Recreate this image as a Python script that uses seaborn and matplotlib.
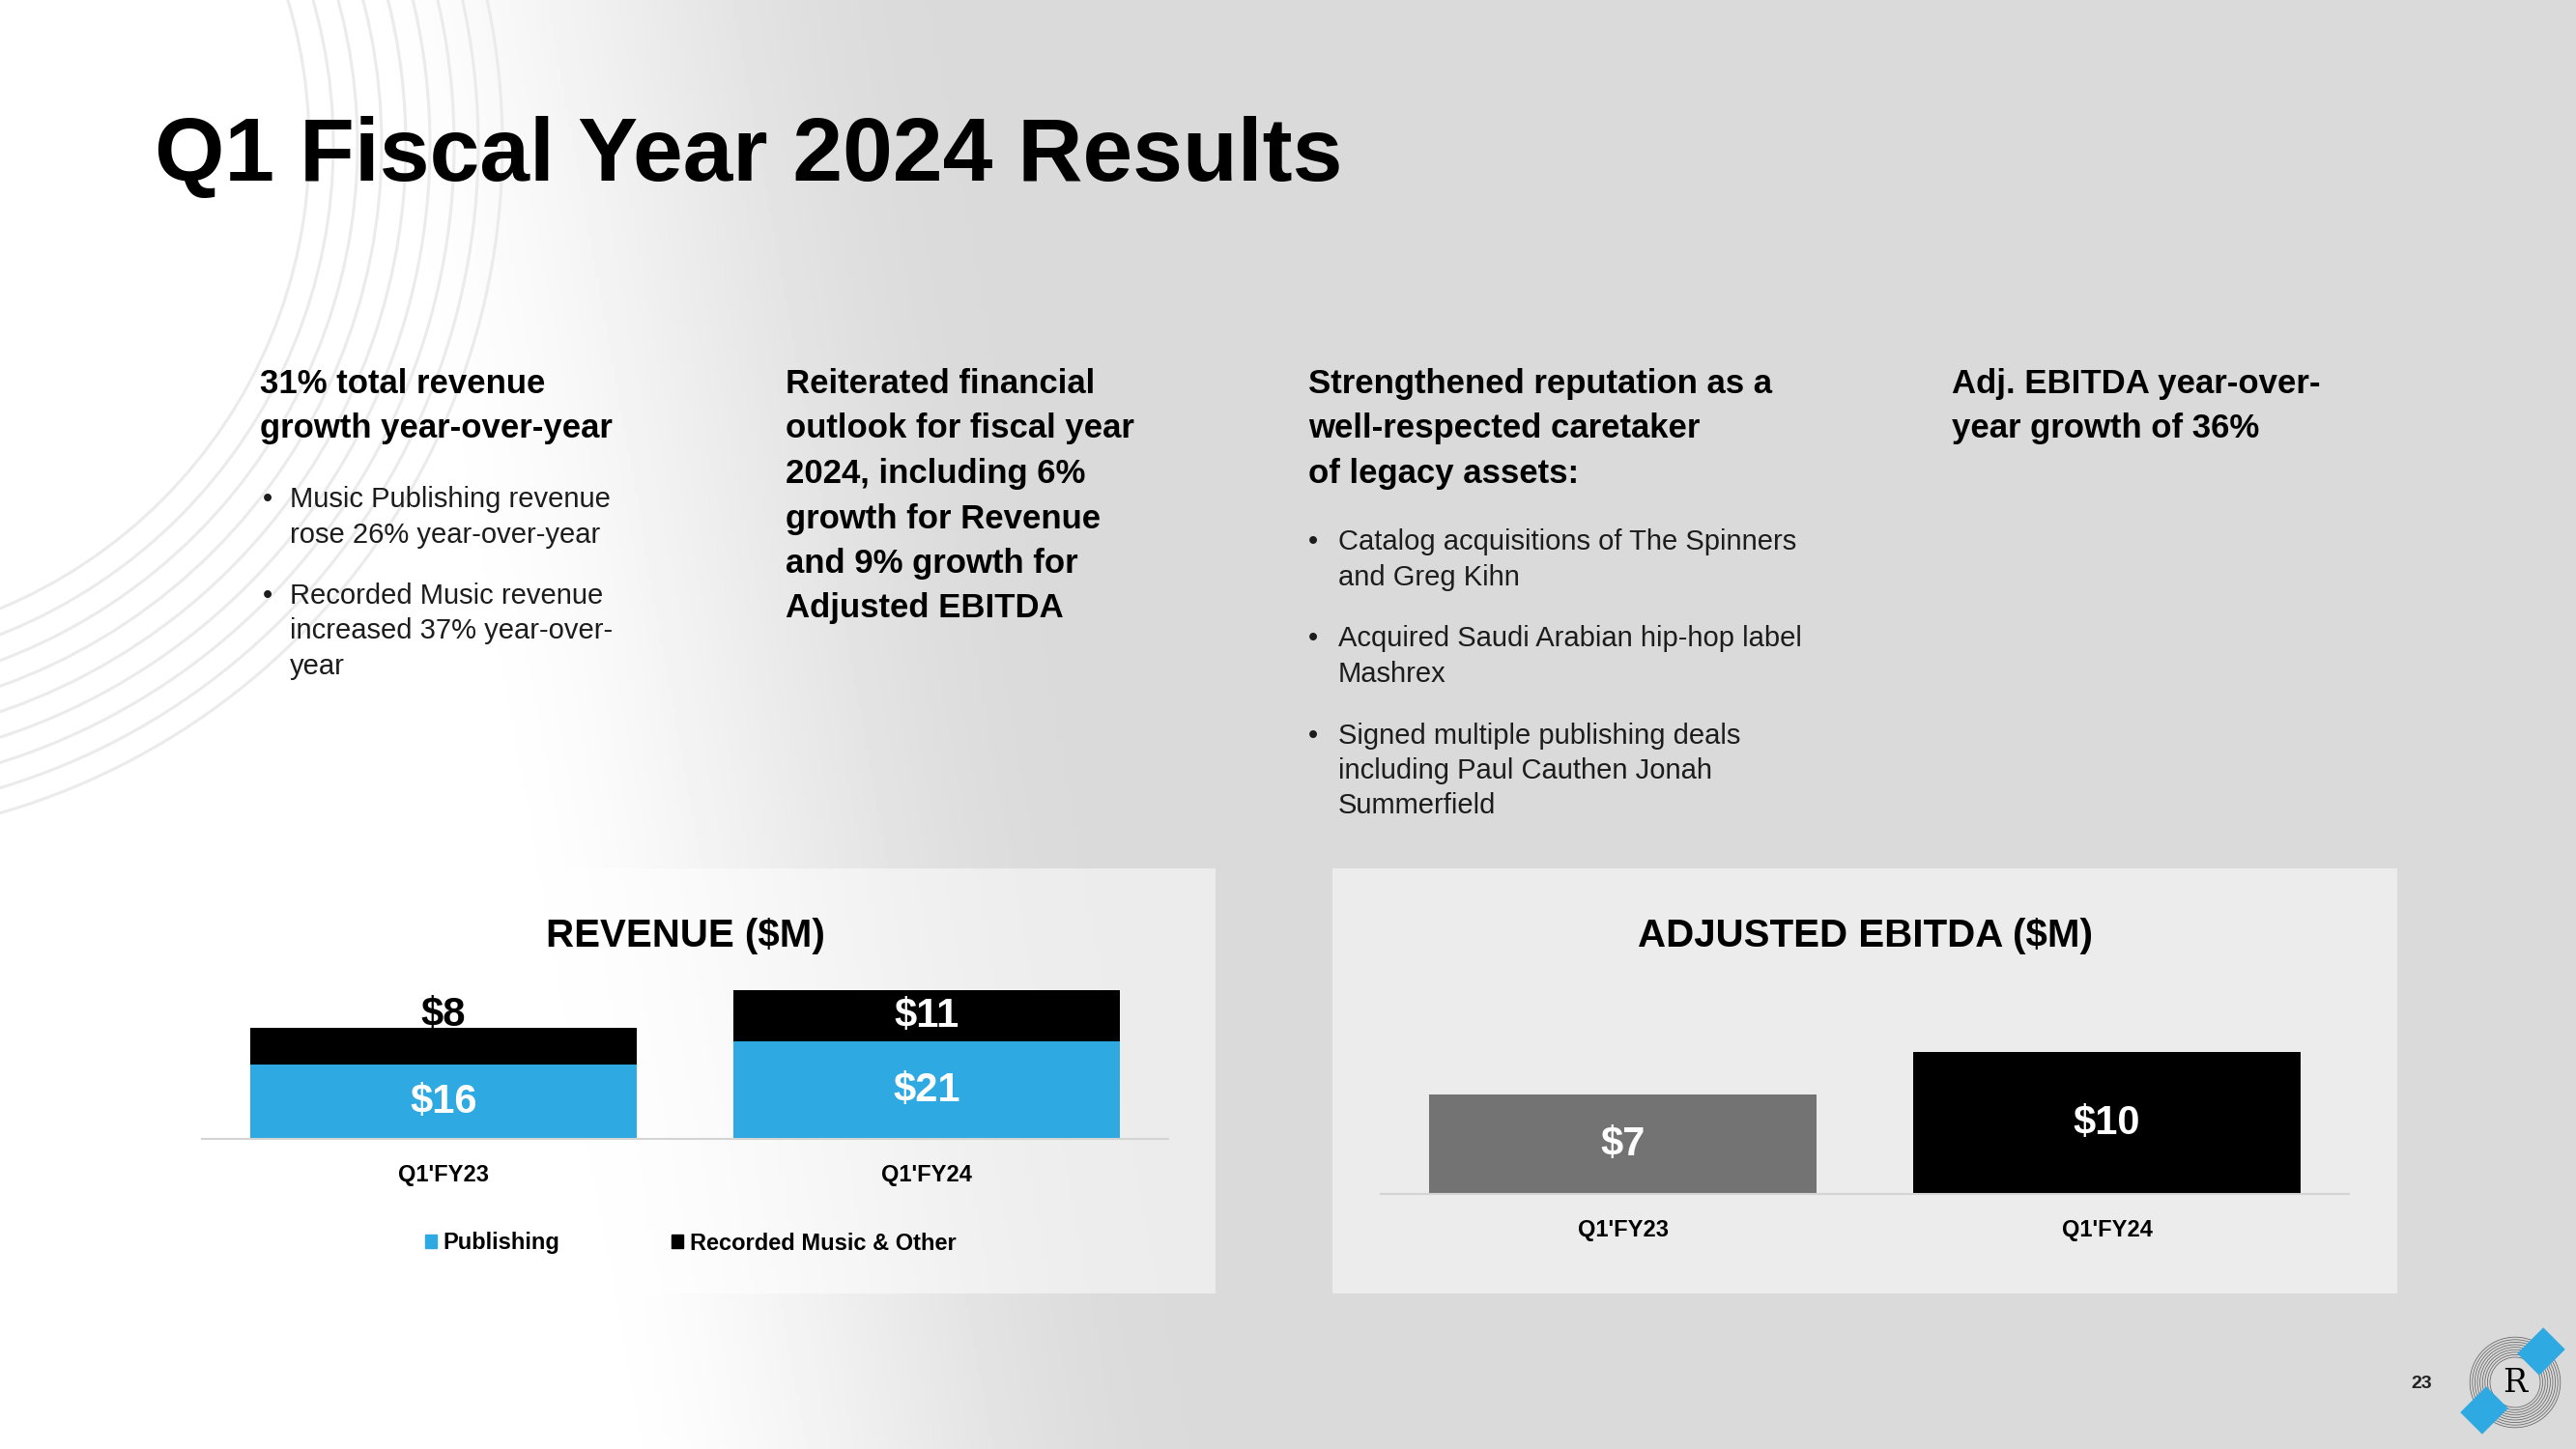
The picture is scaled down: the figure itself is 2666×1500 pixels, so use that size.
import numpy as np
import matplotlib
matplotlib.use("Agg")
import matplotlib.pyplot as plt
from matplotlib.patches import Rectangle, Circle, Polygon, Patch
import seaborn as sns

W, H = 2666, 1500

# chart data ($M)
quarters = ["Q1'FY23", "Q1'FY24"]
publishing = [16, 21]
recorded = [8, 11]
ebitda = [7, 10]

blue = "#2fa9e1"
ebitda_colors = ["#737373", "#000000"]

# slide text
title = "Q1 Fiscal Year 2024 Results"
col1_head = ["31% total revenue", "growth year-over-year"]
col1_bullets = [["Music Publishing revenue", "rose 26% year-over-year"],
                ["Recorded Music revenue", "increased 37% year-over-", "year"]]
col2_head = ["Reiterated financial", "outlook for fiscal year", "2024, including 6%",
             "growth for Revenue", "and 9% growth for", "Adjusted EBITDA"]
col3_head = ["Strengthened reputation as a", "well-respected caretaker", "of legacy assets:"]
col3_bullets = [["Catalog acquisitions of The Spinners", "and Greg Kihn"],
                ["Acquired Saudi Arabian hip-hop label", "Mashrex"],
                ["Signed multiple publishing deals", "including Paul Cauthen Jonah", "Summerfield"]]
col4_head = ["Adj. EBITDA year-over-", "year growth of 36%"]

sns.set_style("white")
plt.rcParams['font.family'] = ['Liberation Sans', 'DejaVu Sans']
plt.rcParams['text.color'] = 'black'
plt.rcParams['xtick.color'] = 'black'
plt.rcParams['axes.titlecolor'] = 'black'

fig = plt.figure(figsize=(W / 100, H / 100), dpi=100)

# background layer, drawn in pixel coordinates
bg = fig.add_axes([0, 0, 1, 1])
xx, yy = np.meshgrid(np.arange(0, W, 4), np.arange(0, H, 4))
x0 = 330 + 0.18 * yy
t = np.clip((xx - x0) / 650, 0, 1)
t = t * t * (3 - 2 * t)
bg.imshow(1 - 0.145 * t, cmap='gray', vmin=0, vmax=1, extent=[0, W, H, 0],
          aspect='auto', zorder=0)
bg.set_xlim(0, W)
bg.set_ylim(H, 0)
bg.axis('off')

# rings in the top left corner
for r in range(520, 745, 25):
    bg.add_patch(Circle((-200, 150), r, fill=False, lw=2.2, ec='#ebebeb', zorder=1))

# chart panels
bg.add_patch(Rectangle((207, 899), 1051, 440, fc='white', alpha=0.5, lw=0, zorder=2))
bg.add_patch(Rectangle((1379, 899), 1102, 440, fc='white', alpha=0.5, lw=0, zorder=2))

bg.text(160, 187, title, fontsize=67, fontweight='bold', va='baseline', zorder=5)


def write(x, ys, lines, bold=True, size=25):
    for y, s in zip(ys, lines):
        bg.text(x, y, s, fontsize=size, fontweight='bold' if bold else 'normal',
                color='black' if bold else '#1c1c1c', va='baseline', zorder=5)


def bullets(xb, xt, groups, ys):
    for g, yg in zip(groups, ys):
        bg.text(xb, yg[0], "\u2022", fontsize=21, color='#1c1c1c', va='baseline', zorder=5)
        write(xt, yg, g, bold=False, size=21)


write(269, [407, 453], col1_head)
bullets(272, 300, col1_bullets, [[525, 562], [625, 661, 698]])
write(813, [407 + 46.5 * i for i in range(len(col2_head))], col2_head)
write(1354, [407, 453, 500], col3_head)
bullets(1354, 1385, col3_bullets, [[569, 606], [669, 706], [770, 806, 842]])
write(2020, [407, 453], col4_head)

# page number and logo
bg.text(2506, 1437, "23", fontsize=14, fontweight='bold', ha='center', va='baseline',
        color='#222222', zorder=5)
cx, cy = 2603, 1431
for r in np.arange(26, 49, 2.6):
    bg.add_patch(Circle((cx, cy), r, fill=False, lw=0.6, ec='#6a6a6a', zorder=5))
u = np.array([1, -1]) / np.sqrt(2)
v = np.array([1, 1]) / np.sqrt(2)
for c in [(2630, 1399), (2571, 1460)]:
    c = np.array(c)
    pts = [c + 19 * u + 16 * v, c + 19 * u - 16 * v, c - 19 * u - 16 * v, c - 19 * u + 16 * v]
    bg.add_patch(Polygon(pts, closed=True, fc=blue, lw=0, zorder=6))
bg.text(cx, cy + 1, "R", fontfamily='DejaVu Serif', fontsize=24, ha='center', va='center',
        color='black', zorder=7)


def style_axis(ax, title_text, pad):
    ax.patch.set_alpha(0)
    ax.set_xlim(-0.5, 1.5)
    ax.set_yticks([])
    ax.set_xlabel('')
    ax.set_ylabel('')
    sns.despine(ax=ax, left=True)
    ax.spines['bottom'].set_color('#d4d4d4')
    ax.spines['bottom'].set_linewidth(1.5)
    ax.tick_params(axis='x', length=0, pad=18.5, labelsize=17, labelcolor='black')
    for lbl in ax.get_xticklabels():
        lbl.set_fontweight('bold')
    ax.set_title(title_text, fontsize=29, fontweight='bold', pad=pad, color='black')


# revenue, stacked: totals in black, publishing in blue over them
totals = [p + r for p, r in zip(publishing, recorded)]
ax1 = fig.add_axes([209 / W, 1 - 1179 / H, 1000 / W, 192 / H])
sns.barplot(x=quarters, y=totals, color='black', saturation=1, linewidth=0, ax=ax1)
sns.barplot(x=quarters, y=publishing, color=blue, saturation=1, linewidth=0, ax=ax1)
ax1.set_ylim(0, 40)
for i, (p, r) in enumerate(zip(publishing, recorded)):
    ax1.text(i, p / 2, f"${p}", ha='center', va='center', color='white',
             fontsize=30, fontweight='bold')
    if r >= 10:
        ax1.text(i, p + r / 2, f"${r}", ha='center', va='center', color='white',
                 fontsize=30, fontweight='bold')
    else:
        ax1.text(i, p + r + 0.4, f"${r}", ha='center', va='baseline', color='black',
                 fontsize=30, fontweight='bold')
style_axis(ax1, "REVENUE ($M)", 5)
ax1.legend(handles=[Patch(color=blue, label='Publishing'),
                    Patch(color='black', label='Recorded Music & Other')],
           loc='center', bbox_to_anchor=(715 / W, 1 - 1287 / H), bbox_transform=fig.transFigure,
           ncol=2, frameon=False, prop={'size': 17, 'weight': 'bold'},
           handlelength=0.5, handleheight=0.55, handletextpad=0.3, columnspacing=4.9,
           borderpad=0, labelcolor='black')

# adjusted EBITDA
ax2 = fig.add_axes([1429 / W, 1 - 1236 / H, 1002 / W, 176 / H])
sns.barplot(x=quarters, y=ebitda, hue=quarters, palette=ebitda_colors, saturation=1,
            linewidth=0, legend=False, ax=ax2)
ax2.set_ylim(0, 12)
for i, e in enumerate(ebitda):
    ax2.text(i, e / 2, f"${e}", ha='center', va='center', color='white',
             fontsize=30, fontweight='bold')
style_axis(ax2, "ADJUSTED EBITDA ($M)", 57.6)

fig.savefig("out.png", dpi=100)
